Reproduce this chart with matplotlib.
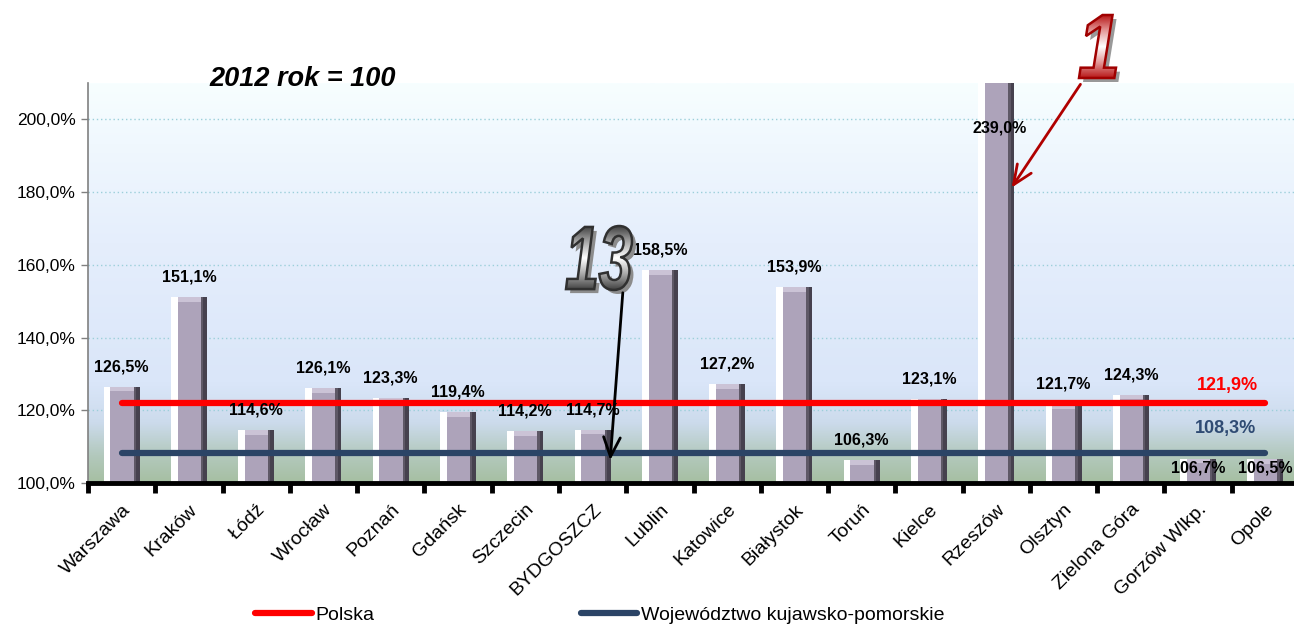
import numpy as np
import matplotlib.pyplot as plt
from matplotlib.colors import LinearSegmentedColormap
from matplotlib.lines import Line2D
from matplotlib.textpath import TextPath
from matplotlib.patches import PathPatch
from matplotlib.font_manager import FontProperties, fontManager
from matplotlib.transforms import Affine2D

miasta = ['Warszawa', 'Kraków', 'Łódź', 'Wrocław', 'Poznań', 'Gdańsk', 'Szczecin',
          'BYDGOSZCZ', 'Lublin', 'Katowice', 'Białystok', 'Toruń', 'Kielce', 'Rzeszów',
          'Olsztyn', 'Zielona Góra', 'Gorzów Wlkp.', 'Opole']
wartosci = [126.5, 151.1, 114.6, 126.1, 123.3, 119.4, 114.2, 114.7, 158.5, 127.2,
            153.9, 106.3, 123.1, 239.0, 121.7, 124.3, 106.7, 106.5]
polska = 121.9
wojewodztwo = 108.3

SANS = ['Liberation Sans', 'DejaVu Sans']
installed = {f.name for f in fontManager.ttflist}
NARROW = ['Liberation Sans Narrow'] + SANS if 'Liberation Sans Narrow' in installed else SANS
lab_size = 12.5 if 'Liberation Sans Narrow' in installed else 11.5

def fmt(v):
    return ('%.1f%%' % v).replace('.', ',')

fig = plt.figure(figsize=(12.94, 6.25), dpi=100)
ax = fig.add_axes([88/1294, 142/625, 1211/1294, 400/625])

n = len(miasta)
x = np.arange(n)
ymin, ymax = 100, 210

# tlo z gradientem
cmap = LinearSegmentedColormap.from_list('bg', [
    (0.0, '#A6BFA2'), (0.07, '#B3C9BE'), (0.15, '#CCDBEC'), (0.25, '#DAE6F9'),
    (0.6, '#E5EEFC'), (0.85, '#F0F8FE'), (1.0, '#F7FEFF')])
grad = np.linspace(0, 1, 256).reshape(-1, 1)
ax.imshow(grad, cmap=cmap, origin='lower', extent=[0, 1, 0, 1], transform=ax.transAxes,
          aspect='auto', zorder=0)

# slupki "3D"
h = np.array(wartosci) - ymin
bw = 0.535
ax.bar(x, h, bw, bottom=ymin, color='#ADA3BA', zorder=2)
ax.bar(x - bw/2, h, 0.1, bottom=ymin, align='edge', color='#FFFFFF', zorder=3)
ax.bar(x + bw/2 - 0.09, h, 0.09, bottom=ymin, align='edge', color='#46414E', zorder=3)
ax.bar(x + bw/2 - 0.09, h, 0.035, bottom=ymin, align='edge', color='#5E5866', zorder=3)
ax.bar(x - bw/2 + 0.1, 1.3, bw - 0.19, bottom=np.array(wartosci) - 1.3, align='edge',
       color='#CBC3D6', zorder=3)

# linie odniesienia
ax.plot([x[0], x[-1]], [polska, polska], color='#FF0000', lw=4.5,
        solid_capstyle='round', zorder=5)
ax.plot([x[0], x[-1]], [wojewodztwo, wojewodztwo], color='#2B4466', lw=4.5,
        solid_capstyle='round', zorder=5)
ax.text(16.44, polska + 4.8, fmt(polska), color='#FF0000', fontsize=13,
        fontweight='bold', family=SANS, ha='center', va='center', zorder=6)
ax.text(16.41, wojewodztwo + 6.8, fmt(wojewodztwo), color='#2F4B73', fontsize=13,
        fontweight='bold', family=SANS, ha='center', va='center', zorder=6)

# etykiety danych
for i, v in enumerate(wartosci):
    if v > ymax:
        xi, yi = i + 0.05, 197.5
    elif miasta[i] in ('Gorzów Wlkp.', 'Opole'):
        xi, yi = i, 104.2
    else:
        xi, yi = i, v + 5.5
    ax.text(xi, yi, fmt(v), fontsize=lab_size, fontweight='bold', family=NARROW,
            ha='center', va='center', zorder=7)

ax.set_xlim(-0.5, n - 0.5)
ax.set_ylim(ymin, ymax)

yt = [100, 120, 140, 160, 180, 200]
ax.set_yticks(yt)
ax.set_yticklabels([fmt(t) for t in yt], family=SANS, fontsize=12.5)
ax.tick_params(axis='y', color='#808080', length=5, width=1, pad=4)
for t in yt[1:]:
    ax.axhline(t, color='#9CCFDA', lw=1, ls=(0, (1, 2)), zorder=1)

ax.set_xticks(x)
ax.set_xticklabels(miasta, rotation=45, ha='right', va='top', rotation_mode='anchor',
                   family=SANS, fontsize=14)
ax.set_xticks(np.arange(n + 1) - 0.5, minor=True)
ax.tick_params(axis='x', which='major', length=0, pad=13)
ax.tick_params(axis='x', which='minor', length=7, width=3.5, color='black')

for s in ['top', 'right']:
    ax.spines[s].set_visible(False)
ax.spines['left'].set_color('#808080')
ax.spines['left'].set_linewidth(1.2)
ax.spines['bottom'].set_color('black')
ax.spines['bottom'].set_linewidth(3.5)
ax.spines['bottom'].set_zorder(8)

# tytul
fig.text(303/1294, 1 - 79/625, '2012 rok = 100', fontsize=19.5, fontweight='bold',
         style='italic', family=NARROW, ha='center', va='center')

# duze cyfry i strzalki (os nakladki w pikselach)
over = fig.add_axes([0, 0, 1, 1], zorder=10)
over.set_facecolor('none')
over.axis('off')

def big_number(s, box, colors, edge, shadow):
    x0, y0, x1, y1 = box
    fp = FontProperties(family=SANS, weight='bold', style='italic')
    tp = TextPath((0, 0), s, size=100, prop=fp)
    bb = tp.get_extents()
    tr = Affine2D().translate(-bb.x0, -bb.y0).scale((x1 - x0) / bb.width,
                                                   -(y1 - y0) / bb.height).translate(x0, y1)
    path = tr.transform_path(tp)
    sh = Affine2D().translate(4, 4).transform_path(path)
    over.add_patch(PathPatch(sh, facecolor=shadow, edgecolor='none', zorder=1))
    body = PathPatch(path, facecolor='none', edgecolor=edge, lw=1.8, zorder=3)
    over.add_patch(body)
    g = np.linspace(0, 1, 200)
    img = np.abs(g - 0.5).reshape(-1, 1) * 2
    im = over.imshow(img, cmap=LinearSegmentedColormap.from_list('n', colors),
                     extent=[x0, x1, y1, y0], aspect='auto', zorder=2)
    im.set_clip_path(body)

big_number('1', (1079, 15, 1116, 78), ['#FFFFFF', '#E49A9A', '#B81818'], '#A00000', '#999999')
big_number('13', (566, 226, 632, 290), ['#FFFFFF', '#A8A8A8', '#404040'], '#303030', '#8C8C8C')

over.annotate('', xy=(1010, 190), xytext=(1082, 82),
              arrowprops=dict(arrowstyle='->,head_length=1.4,head_width=0.6', color='#B00000', lw=2))
over.annotate('', xy=(610, 463), xytext=(623, 290),
              arrowprops=dict(arrowstyle='->,head_length=1.4,head_width=0.6', color='black', lw=2))
over.set_xlim(0, 1294)
over.set_ylim(625, 0)

# legenda
handles = [Line2D([], [], color='#FF0000', lw=4.5, solid_capstyle='round'),
           Line2D([], [], color='#2B4466', lw=4.5, solid_capstyle='round')]
fig.legend(handles, ['Polska', 'Województwo kujawsko-pomorskie'], loc='center',
           bbox_to_anchor=(600/1294, 10/625), ncol=2, frameon=False,
           prop={'family': SANS, 'size': 14}, handlelength=2.9, handletextpad=0.2,
           columnspacing=10.6)

fig.savefig('out.png', dpi=100)
